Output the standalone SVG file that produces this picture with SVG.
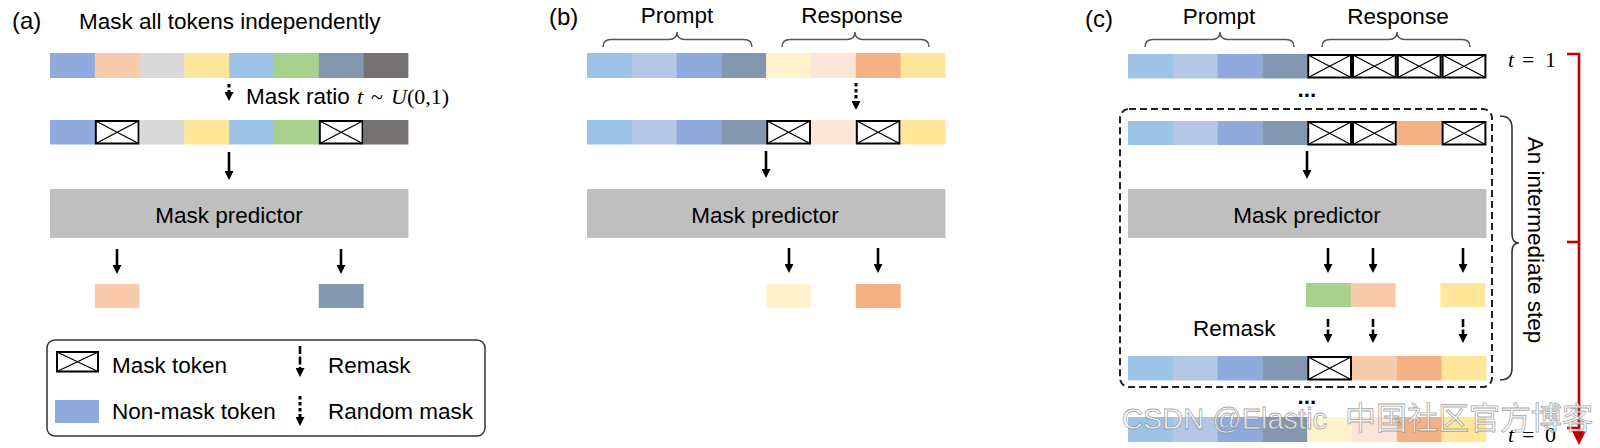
<svg xmlns="http://www.w3.org/2000/svg" width="1600" height="448" viewBox="0 0 1600 448">
<style>
.t{font-family:"Liberation Sans",Arial,sans-serif;font-size:22.5px;fill:#000}
.lbl{font-size:24px}
.mid{text-anchor:middle}
.m{font-family:"Liberation Serif","Times New Roman",serif;font-size:22px;fill:#000}
.it{font-style:italic}
.pred{fill:#BFBFBF}
.arr{stroke:#000;stroke-width:2.6;fill:none;marker-end:url(#ah)}
.dot{stroke-dasharray:3.5 2.5;stroke-width:3}
.dash{stroke-dasharray:8 2.5}
.brace{fill:none;stroke:#555;stroke-width:1.4}
.c1{fill:#9DC3E6}.c2{fill:#B4C7E7}.c3{fill:#8FAADC}.c4{fill:#8497B0}
.y1{fill:#FFF2CC}.p1{fill:#FBE5D6}.or{fill:#F4B183}.ye{fill:#FFE699}
.pe{fill:#F8CBAD}.gr{fill:#D9D9D9}.gn{fill:#A9D18E}.dk{fill:#767171}
.red{stroke:#C00000;stroke-width:2.6;fill:none}
.wm{font-family:"Liberation Sans",Arial,"Noto Sans CJK SC",sans-serif;font-size:29px;fill:#fff;fill-opacity:0.72;stroke:#888;stroke-width:0.8;stroke-opacity:0.75}
</style>
<defs>
<marker id="ah" viewBox="0 0 9 9" refX="0" refY="4.5" markerWidth="9" markerHeight="9" markerUnits="userSpaceOnUse" orient="auto"><path d="M0,0 L9,4.5 L0,9 z" fill="#000"/></marker>
<g id="mk"><rect x="1" y="1" width="42.8" height="22.5" fill="#fff" stroke="#000" stroke-width="2"/><path d="M1,1 L43.8,23.5 M43.8,1 L1,23.5" stroke="#000" stroke-width="1.3"/></g>
</defs>
<rect width="1600" height="448" fill="#fff"/>

<!-- Panel (a) -->
<g id="title-a">
<text class="t lbl" x="12" y="29">(a)</text>
<text class="t" x="79" y="29">Mask all tokens independently</text>
</g>
<g id="row-a1">
<rect class="c3" x="50" y="53" width="45.2" height="25"/>
<rect class="pe" x="94.8" y="53" width="45.2" height="25"/>
<rect class="gr" x="139.6" y="53" width="45.2" height="25"/>
<rect class="ye" x="184.4" y="53" width="45.2" height="25"/>
<rect class="c1" x="229.2" y="53" width="45.2" height="25"/>
<rect class="gn" x="274" y="53" width="45.2" height="25"/>
<rect class="c4" x="318.8" y="53" width="45.2" height="25"/>
<rect class="dk" x="363.6" y="53" width="44.8" height="25"/>
</g>
<g id="mask-ratio-a">
<text class="t" x="246" y="104">Mask ratio</text>
<text class="m it" x="357" y="104">t</text>
<text class="m" x="371" y="104" font-size="24">~</text>
<text class="m it" x="391" y="104">U</text>
<text class="m" x="407" y="104">(0,1)</text>
</g>
<g id="row-a2">
<rect class="c3" x="50" y="120" width="45.2" height="24.5"/>
<use href="#mk" x="94.8" y="120"/>
<rect class="gr" x="139.6" y="120" width="45.2" height="24.5"/>
<rect class="ye" x="184.4" y="120" width="45.2" height="24.5"/>
<rect class="c1" x="229.2" y="120" width="45.2" height="24.5"/>
<rect class="gn" x="274" y="120" width="44.8" height="24.5"/>
<use href="#mk" x="318.8" y="120"/>
<rect class="dk" x="363.6" y="120" width="44.8" height="24.5"/>
</g>
<g id="predictor-a">
<rect class="pred" x="50" y="189" width="358.4" height="49"/>
<text class="t mid" x="229" y="223">Mask predictor</text>
</g>
<g id="out-a">
<rect class="pe" x="94.8" y="284" width="44.8" height="24"/>
<rect class="c4" x="318.8" y="284" width="44.8" height="24"/>
</g>
<g id="legend">
<rect x="47" y="340" width="438" height="96" rx="8" fill="#fff" stroke="#333" stroke-width="1.5"/>
<rect x="57" y="352" width="41" height="19.5" fill="#fff" stroke="#000" stroke-width="2"/>
<path d="M57,352 L98,371.5 M98,352 L57,371.5" stroke="#000" stroke-width="1.3"/>
<text class="t" x="112" y="373">Mask token</text>
<rect class="c3" x="55" y="400" width="44" height="23"/>
<text class="t" x="112" y="419">Non-mask token</text>
<line class="arr dash" x1="300" y1="346" x2="300" y2="368"/>
<text class="t" x="328" y="373">Remask</text>
<line class="arr dot" x1="300" y1="396" x2="300" y2="417"/>
<text class="t" x="328" y="419">Random mask</text>
</g>

<!-- Panel (b) -->
<g id="title-b">
<text class="t lbl" x="549" y="25">(b)</text>
<text class="t mid" x="677" y="23">Prompt</text>
<text class="t mid" x="852" y="23">Response</text>
<path class="brace" d="M603,47 Q603,39.5 611,39.5 L669,39.5 Q677,39.5 677,32 Q677,39.5 685,39.5 L744,39.5 Q752,39.5 752,47"/>
<path class="brace" d="M782,47 Q782,39.5 790,39.5 L847,39.5 Q855,39.5 855,32 Q855,39.5 863,39.5 L921,39.5 Q929,39.5 929,47"/>
</g>
<g id="row-b1">
<rect class="c1" x="587" y="53" width="45.2" height="25"/>
<rect class="c2" x="631.8" y="53" width="45.2" height="25"/>
<rect class="c3" x="676.6" y="53" width="45.2" height="25"/>
<rect class="c4" x="721.4" y="53" width="45.2" height="25"/>
<rect class="y1" x="766.2" y="53" width="45.2" height="25"/>
<rect class="p1" x="811" y="53" width="45.2" height="25"/>
<rect class="or" x="855.8" y="53" width="45.2" height="25"/>
<rect class="ye" x="900.6" y="53" width="44.8" height="25"/>
</g>
<g id="row-b2">
<rect class="c1" x="587" y="120" width="45.2" height="24.5"/>
<rect class="c2" x="631.8" y="120" width="45.2" height="24.5"/>
<rect class="c3" x="676.6" y="120" width="45.2" height="24.5"/>
<rect class="c4" x="721.4" y="120" width="44.8" height="24.5"/>
<use href="#mk" x="766.2" y="120"/>
<rect class="p1" x="811" y="120" width="44.8" height="24.5"/>
<use href="#mk" x="855.8" y="120"/>
<rect class="ye" x="900.6" y="120" width="44.8" height="24.5"/>
</g>
<g id="predictor-b">
<rect class="pred" x="587" y="189" width="358.4" height="49"/>
<text class="t mid" x="765" y="223">Mask predictor</text>
</g>
<g id="out-b">
<rect class="y1" x="766.2" y="284" width="44.8" height="24"/>
<rect class="or" x="855.8" y="284" width="44.8" height="24"/>
</g>

<!-- Panel (c) -->
<g id="title-c">
<text class="t lbl" x="1085" y="27">(c)</text>
<text class="t mid" x="1219" y="24">Prompt</text>
<text class="t mid" x="1398" y="24">Response</text>
<path class="brace" d="M1145,47 Q1145,39.5 1153,39.5 L1212,39.5 Q1220,39.5 1220,32 Q1220,39.5 1228,39.5 L1286,39.5 Q1294,39.5 1294,47"/>
<path class="brace" d="M1322,47 Q1322,39.5 1330,39.5 L1389,39.5 Q1397,39.5 1397,32 Q1397,39.5 1405,39.5 L1462,39.5 Q1470,39.5 1470,47"/>
</g>
<g id="row-c1">
<rect class="c1" x="1128" y="54" width="45.2" height="24.5"/>
<rect class="c2" x="1172.8" y="54" width="45.2" height="24.5"/>
<rect class="c3" x="1217.6" y="54" width="45.2" height="24.5"/>
<rect class="c4" x="1262.4" y="54" width="44.8" height="24.5"/>
<use href="#mk" x="1307.2" y="54"/>
<use href="#mk" x="1352" y="54"/>
<use href="#mk" x="1396.8" y="54"/>
<use href="#mk" x="1441.6" y="54"/>
</g>
<g id="t1">
<text class="m it" x="1508" y="67" font-size="21">t</text>
<text class="m" x="1522" y="67" font-size="21">=</text>
<text class="m" x="1545" y="67" font-size="21">1</text>
</g>
<g id="dots-c1"><text class="t mid" x="1307" y="97" font-weight="bold">...</text></g>
<g id="step-box">
<rect x="1120" y="109" width="372" height="278" rx="9" fill="none" stroke="#222" stroke-width="2" stroke-dasharray="7 4"/>
</g>
<g id="row-c2">
<rect class="c1" x="1128" y="121" width="45.2" height="24"/>
<rect class="c2" x="1172.8" y="121" width="45.2" height="24"/>
<rect class="c3" x="1217.6" y="121" width="45.2" height="24"/>
<rect class="c4" x="1262.4" y="121" width="44.8" height="24"/>
<use href="#mk" x="1307.2" y="121"/>
<use href="#mk" x="1352" y="121"/>
<rect class="or" x="1396.8" y="121" width="44.8" height="24"/>
<use href="#mk" x="1441.6" y="121"/>
</g>
<g id="predictor-c">
<rect class="pred" x="1128" y="189" width="358.4" height="49"/>
<text class="t mid" x="1307" y="223">Mask predictor</text>
</g>
<g id="out-c">
<rect class="gn" x="1306" y="283" width="45.2" height="24"/>
<rect class="pe" x="1350.8" y="283" width="44.8" height="24"/>
<rect class="ye" x="1440.4" y="283" width="44.8" height="24"/>
</g>
<g id="remask-label"><text class="t" x="1193" y="336">Remask</text></g>
<g id="row-c3">
<rect class="c1" x="1128" y="356" width="45.2" height="24.5"/>
<rect class="c2" x="1172.8" y="356" width="45.2" height="24.5"/>
<rect class="c3" x="1217.6" y="356" width="45.2" height="24.5"/>
<rect class="c4" x="1262.4" y="356" width="44.8" height="24.5"/>
<use href="#mk" x="1307.2" y="356"/>
<rect class="pe" x="1352" y="356" width="45.2" height="24.5"/>
<rect class="or" x="1396.8" y="356" width="45.2" height="24.5"/>
<rect class="ye" x="1441.6" y="356" width="44.8" height="24.5"/>
</g>
<g id="dots-c3"><text class="t mid" x="1307" y="404" font-weight="bold">...</text></g>
<g id="row-c4">
<rect class="c1" x="1128" y="417" width="45.2" height="25"/>
<rect class="c2" x="1172.8" y="417" width="45.2" height="25"/>
<rect class="c3" x="1217.6" y="417" width="45.2" height="25"/>
<rect class="c4" x="1262.4" y="417" width="45.2" height="25"/>
<rect class="y1" x="1307.2" y="417" width="45.2" height="25"/>
<rect class="p1" x="1352" y="417" width="45.2" height="25"/>
<rect class="or" x="1396.8" y="417" width="45.2" height="25"/>
<rect class="ye" x="1441.6" y="417" width="44.8" height="25"/>
</g>
<g id="t0">
<text class="m it" x="1508" y="442" font-size="21">t</text>
<text class="m" x="1522" y="442" font-size="21">=</text>
<text class="m" x="1545" y="442" font-size="21">0</text>
</g>
<g id="step-brace">
<path d="M1500,116 Q1512,116 1512,128 L1512,234 Q1512,243 1519,243 Q1512,243 1512,252 L1512,368 Q1512,380 1500,380" fill="none" stroke="#333" stroke-width="1.6"/>
<text class="t mid" transform="translate(1528,240) rotate(90)" x="0" y="0">An intermediate step</text>
</g>
<g id="time-axis">
<path class="red" d="M1567,54 H1579 V432"/>
<path class="red" d="M1567,242 H1579"/>
<path class="red" d="M1567,428 H1579"/>
<polygon points="1572,431 1586,431 1579,445" fill="#C00000"/>
</g>

<!-- connectors -->
<g id="connectors">
<line class="arr dot" x1="229" y1="84" x2="229" y2="92"/>
<line class="arr" x1="229" y1="152" x2="229" y2="171"/>
<line class="arr" x1="117" y1="249" x2="117" y2="265"/>
<line class="arr" x1="341" y1="249" x2="341" y2="265"/>
<line class="arr dot" x1="856" y1="83" x2="856" y2="101"/>
<line class="arr" x1="766" y1="151" x2="766" y2="169"/>
<line class="arr" x1="789" y1="248" x2="789" y2="264"/>
<line class="arr" x1="878" y1="248" x2="878" y2="264"/>
<line class="arr" x1="1307" y1="151" x2="1307" y2="170"/>
<line class="arr" x1="1328" y1="248" x2="1328" y2="264"/>
<line class="arr" x1="1373" y1="248" x2="1373" y2="264"/>
<line class="arr" x1="1463" y1="248" x2="1463" y2="264"/>
<line class="arr dash" x1="1328" y1="319" x2="1328" y2="334"/>
<line class="arr dash" x1="1373" y1="319" x2="1373" y2="334"/>
<line class="arr dash" x1="1463" y1="319" x2="1463" y2="334"/>
</g>

<g id="watermark">
<text class="wm" x="1122" y="429">CSDN @Elastic <tspan x="1345" font-size="31">中国社区官方博客</tspan></text>
</g>
</svg>
